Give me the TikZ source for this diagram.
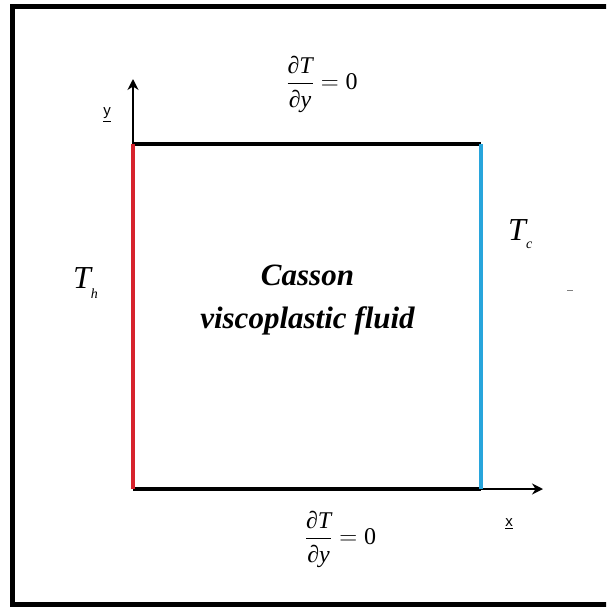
\documentclass[tikz,border=0pt]{standalone}
\usepackage{amsmath}
\usepackage{fontspec}
\setmainfont{Liberation Serif}
\setsansfont{Liberation Sans}
\usetikzlibrary{arrows.meta}
\definecolor{hotwall}{RGB}{215,35,45}
\definecolor{coldwall}{RGB}{40,165,220}
\begin{document}
\begin{tikzpicture}[x=1pt,y=-1pt,
  wall/.style={line width=3.8pt},
  axisline/.style={line width=1.8pt,-{Stealth[length=11pt,width=11pt]}},
  axlab/.style={font=\sffamily\fontsize{15}{18}\selectfont,inner sep=0pt},
  bclab/.style={font=\fontsize{24}{28}\selectfont,inner sep=0pt},
  templab/.style={font=\fontsize{32}{36}\selectfont\itshape,inner sep=0pt,anchor=base west},
  fluidlab/.style={font=\fontsize{31}{44}\selectfont\bfseries\itshape,inner sep=0pt,anchor=base}]
\useasboundingbox (0,0) rectangle (606,607);
\clip (0,0) rectangle (606,607);
\draw[line width=5pt] (12.5,6.5) rectangle (615,604.5);
\coordinate (O) at (133,489);
\coordinate (A) at (133,144);
\coordinate (B) at (481,144);
\coordinate (C) at (481,489);
\coordinate (ytip) at (133,79);
\coordinate (xtip) at (543,489);
\draw[axisline] (A) -- (ytip);
\draw[axisline] (C) -- (xtip);
\draw[wall] (A) -- (B);
\draw[wall] (O) -- (C);
\draw[wall,color=hotwall] (O) -- (A);
\draw[wall,color=coldwall] (C) -- (B);
\node[axlab] (ylab) at (107,115) {\underline{y}};
\node[axlab] (xlab) at (509,524) {\underline{x}};
\node[bclab] (topbc) at (322,84) {$\dfrac{\text{\itshape ∂T}}{\text{\itshape ∂y}}=\text{0}$};
\node[bclab] (botbc) at (340.5,539) {$\dfrac{\text{\itshape ∂T}}{\text{\itshape ∂y}}=\text{0}$};
\node[templab] (Th) at (73,288) {T\raisebox{-0.33em}{\fontsize{14}{16}\selectfont h}};
\node[templab] (Tc) at (508,240) {T\raisebox{-0.25em}{\fontsize{14}{16}\selectfont c}};
\node[fluidlab] (casson) at (307.5,285) {Casson};
\node[fluidlab] (visco) at (307.5,328) {viscoplastic fluid};
\draw[gray,line width=1pt] (567,290) -- (573,290);
\end{tikzpicture}
\end{document}
